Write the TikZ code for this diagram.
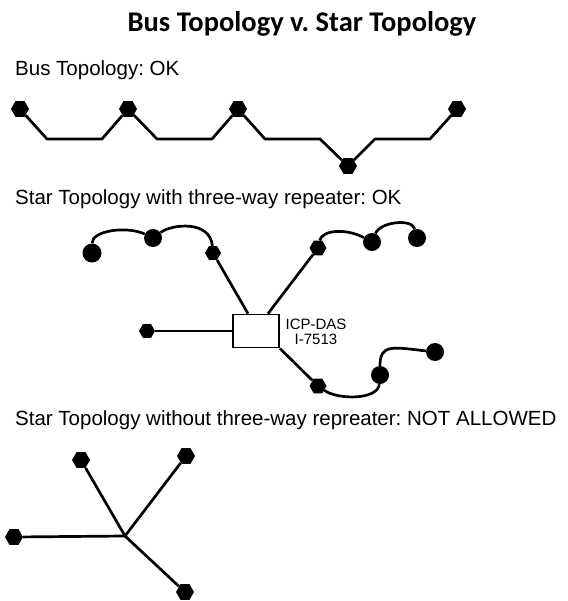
\documentclass[tikz,border=0pt]{standalone}
\usepackage{fontspec}
\setmainfont{Liberation Sans}
\newfontfamily\titlefont{Carlito}
\usetikzlibrary{shapes.geometric}
\frenchspacing

\begin{document}
\begin{tikzpicture}[x=1pt,y=-1pt]
  \tikzset{stn/.style={regular polygon,regular polygon sides=6,fill=black,inner sep=0pt,minimum size=#1},
           dev/.style={circle,fill=black,inner sep=0pt,minimum size=#1},
           wire/.style={line width=2.7pt,line join=round},
           toptext/.style={anchor=base west,inner sep=0pt,font=\fontsize{20.5}{24}\selectfont}}
  \useasboundingbox (0,0) rectangle (567,601);

  \node[anchor=base,inner sep=0pt,font=\titlefont\bfseries\fontsize{28.5}{30}\selectfont] (title) at (302,32) {Bus Topology v. Star Topology};

  % bus
  \node[toptext] (bustext) at (15,76) {Bus Topology: OK};
  \node[stn=18] (b1) at (20,109) {};
  \node[stn=18] (b2) at (128,109) {};
  \node[stn=18] (b3) at (238,109) {};
  \node[stn=18] (b4) at (348,166) {};
  \node[stn=18] (b5) at (457,109) {};
  \draw[wire] (b1) -- ++(27,30) -- ++(55,0) -- (b2);
  \draw[wire] (b2) -- ++(29,30) -- ++(55,0) -- (b3);
  \draw[wire] (b3) -- ++(27,30) -- ++(55,0) -- (b4);
  \draw[wire] (b4) -- ++(27,-27) -- ++(55,0) -- (b5);

  % star with repeater
  \node[toptext] (startext) at (15,205) {Star Topology with three-way repeater: OK};
  \node[draw,line width=1.8pt,minimum width=46pt,minimum height=33pt] (hub) at (256,331) {};
  \node[align=center,inner sep=0pt,font=\fontsize{15}{15}\selectfont] (hubname) at (316,332) {ICP-DAS\\I-7513};
  \node[stn=16] (s1) at (213,253) {};
  \node[dev=18] (s2) at (153,238) {};
  \node[dev=19] (s3) at (92,253) {};
  \node[stn=17] (t1) at (318,248) {};
  \node[dev=18] (t2) at (372,242) {};
  \node[dev=18] (t3) at (417,238) {};
  \node[stn=16] (w1) at (147,331) {};
  \node[stn=17] (u1) at (318,386) {};
  \node[dev=18] (u2) at (380,375) {};
  \node[dev=18] (u3) at (435,352) {};
  \draw[wire] (hub.west) -- (w1);
  \draw[wire] ([xshift=-8pt]hub.north) -- (s1);
  \draw[wire] ([xshift=12pt]hub.north) -- (t1);
  \draw[wire] (hub.south east) -- (u1);
  \draw[wire] (s3) .. controls (92,230) and (128,226) .. (s2);
  \draw[wire] (s2) .. controls (172,224) and (210,220) .. (s1);
  \draw[wire] (t1) .. controls (322,230) and (346,228) .. (t2);
  \draw[wire] (t2) .. controls (380,222) and (412,218) .. (t3);
  \draw[wire] (u1) .. controls (338,400) and (378,400) .. (u2);
  \draw[wire] (u2) .. controls (380,344) and (392,347) .. (u3);

  % star without repeater
  \node[toptext] (nostartext) at (15,425) {Star Topology without three-way repreater: NOT ALLOWED};
  \coordinate (ctr) at (125,536);
  \node[stn=18] (x1) at (81,460) {};
  \node[stn=18] (x2) at (186,456) {};
  \node[stn=18] (x3) at (14,537) {};
  \node[stn=18] (x4) at (185,592) {};
  \draw[wire] (x1) -- (ctr);
  \draw[wire] (x2) -- (ctr);
  \draw[wire] (x3) -- (ctr);
  \draw[wire] (x4) -- (ctr);
\end{tikzpicture}
\end{document}
